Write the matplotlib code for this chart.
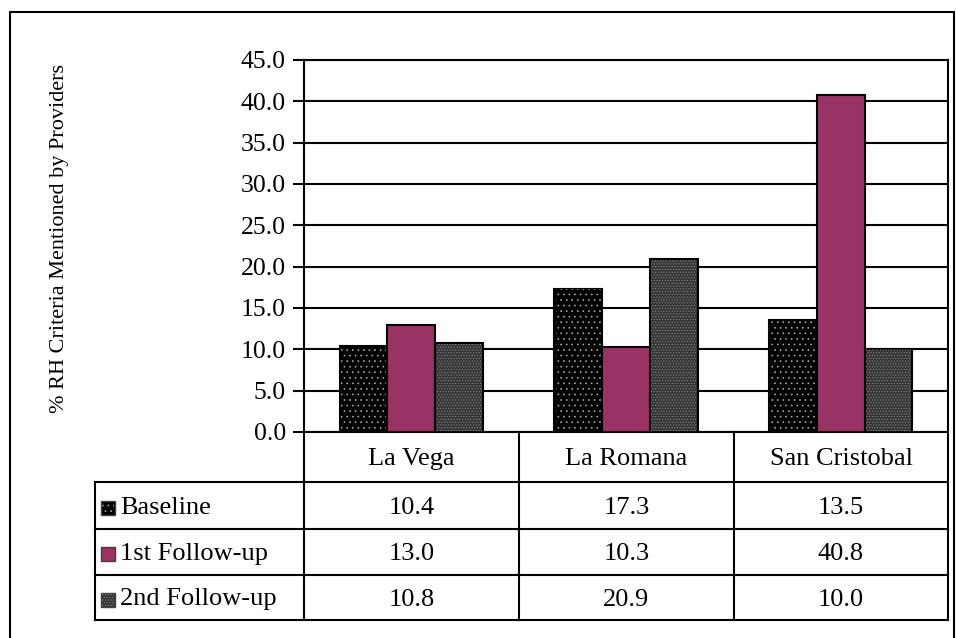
import matplotlib
matplotlib.use("Agg")
import matplotlib.pyplot as plt
from matplotlib.lines import Line2D
from matplotlib.patches import Rectangle
import numpy as np

plt.rcParams['hatch.linewidth'] = 0.45

regions = ["La Vega", "La Romana", "San Cristobal"]
series = ["Baseline", "1st Follow-up", "2nd Follow-up"]
baseline = [10.4, 17.3, 13.5]
follow1 = [13.0, 10.3, 40.8]
follow2 = [10.8, 20.9, 10.0]
yticks = [0, 5, 10, 15, 20, 25, 30, 35, 40, 45]
ylabel = "% RH Criteria Mentioned by Providers"

# fill, hatch, hatch colour per series
styles = [("#000000", "...", "#b0b0b0"),
          ("#993366", None, None),
          ("#363636", "......", "#8c8c8c")]

W, H = 956, 638
fig = plt.figure(figsize=(W / 100, H / 100), dpi=100)
font = "Liberation Serif"
fs = 19


def fx(px):
    return px / W


def fy(py):
    return 1 - py / H


L, R, T, B = 304, 948, 60, 432
ax = fig.add_axes([fx(L), fy(B), fx(R) - fx(L), fy(T) - fy(B)])

x = np.arange(len(regions)) + 0.5
bw = 0.223
for k, vals in enumerate([baseline, follow1, follow2]):
    fc, hatch, hc = styles[k]
    pos = x + (k - 1) * bw
    ax.bar(pos, vals, bw, color=fc, edgecolor="black", linewidth=1.5, zorder=3)
    if hatch:
        ax.bar(pos, vals, bw * 0.94, fill=False, hatch=hatch, edgecolor=hc,
               linewidth=0, zorder=4)

ax.set_xlim(0, 3)
ax.set_ylim(0, 45)
ax.set_yticks(yticks)
ax.set_yticklabels([f"{v:.1f}" for v in yticks], fontname=font, fontsize=18.5)
ax.set_xticks([])
ax.yaxis.grid(True, color="black", linewidth=1.5, zorder=0)
ax.tick_params(axis="y", length=8, width=1.5, pad=5)
for s in ax.spines.values():
    s.set_linewidth(1.5)

fig.text(fx(60), fy(238), ylabel, rotation=90, ha="center", va="center",
         fontname=font, fontsize=16)

# data table under the chart
cols = [304, 519, 734, 948]
rows = [432, 482, 529, 575, 620]
lw = 1.5
for yy in rows[1:]:
    fig.add_artist(Line2D([fx(95), fx(948)], [fy(yy), fy(yy)], color="black", lw=lw))
fig.add_artist(Line2D([fx(95), fx(95)], [fy(482), fy(620)], color="black", lw=lw))
for xx in cols:
    fig.add_artist(Line2D([fx(xx), fx(xx)], [fy(432), fy(620)], color="black", lw=lw))

for j, name in enumerate(regions):
    cx = (cols[j] + cols[j + 1]) / 2
    fig.text(fx(cx), fy(459), name, ha="center", va="center", fontname=font, fontsize=fs)

for i, (name, vals) in enumerate(zip(series, [baseline, follow1, follow2])):
    cy = (rows[i + 1] + rows[i + 2]) / 2 + 2
    fc, hatch, hc = styles[i]
    fig.add_artist(Rectangle((fx(101), fy(cy + 7)), fx(14), 14 / H, facecolor=fc,
                             edgecolor="#404040", lw=1.0))
    if hatch:
        fig.add_artist(Rectangle((fx(102), fy(cy + 6)), fx(12), 12 / H, fill=False,
                                 hatch=hatch, edgecolor=hc, lw=0))
    fig.text(fx(120), fy(cy), name, ha="left", va="center", fontname=font, fontsize=fs)
    for j, v in enumerate(vals):
        cx = (cols[j] + cols[j + 1]) / 2
        fig.text(fx(cx), fy(cy), f"{v:.1f}", ha="center", va="center",
                 fontname=font, fontsize=fs)

# outer frame
fig.add_artist(Rectangle((fx(10), fy(660)), fx(944), (660 - 12) / H, fill=False,
                         edgecolor="black", lw=1.5))

fig.savefig("out.png", dpi=100)
